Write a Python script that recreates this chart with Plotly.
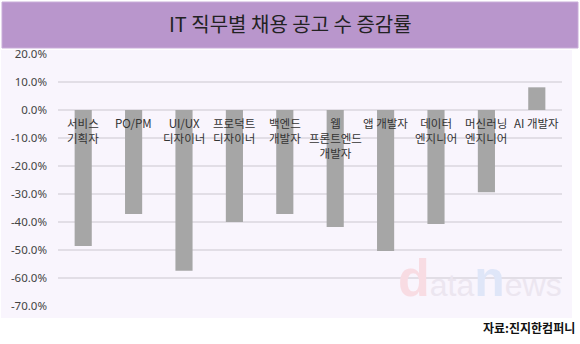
import plotly.graph_objects as go

categories = ["서비스<br>기획자", "PO/PM", "UI/UX<br>디자이너", "프로덕트<br>디자이너", "백엔드<br>개발자",
              "웹<br>프론트엔드<br>개발자", "앱 개발자", "데이터<br>엔지니어", "머신러닝<br>엔지니어", "AI 개발자"]
values = [-48.6, -37.1, -57.4, -40.0, -37.1, -41.8, -50.4, -40.7, -29.4, 8.1]
tick_vals = [20, 10, 0, -10, -20, -30, -40, -50, -60, -70]
tick_text = ["20.0%", "10.0%", "0.0%", "-10.0%", "-20.0%", "-30.0%", "-40.0%", "-50.0%", "-60.0%", "-70.0%"]
title_text = "IT 직무별 채용 공고 수 증감률"
source_text = "자료:진지한컴퍼니"

W, H = 580, 344
ML, MR, MT, MB = 58, 18, 54, 38
PW, PH = W - ML - MR, H - MT - MB

def px(x):
    return (x - ML) / PW

def py(y):
    return (H - MB - y) / PH

KR = "Noto Sans CJK KR"
xs = list(range(len(categories)))

fig = go.Figure()
fig.add_trace(go.Bar(x=xs, y=values, width=0.34, marker=dict(color="#A6A6A6", line=dict(width=0)),
                     hoverinfo="skip"))

shapes = [
    dict(type="rect", xref="paper", yref="paper", x0=px(1), x1=px(572), y0=py(318), y1=py(50),
         fillcolor="#F9F5FD", line=dict(width=0), layer="below"),
    dict(type="rect", xref="paper", yref="paper", x0=px(2), x1=px(578), y0=py(48), y1=py(2),
         fillcolor="#B996CC", line=dict(color="#C9ADD9", width=1), layer="below"),
]

wm = ("<span style='color:#F8DCE3;font-size:52px'><b>d</b></span>"
      "<span style='color:#ECE6F0;font-size:32px'>ata</span>"
      "<span style='color:#DFE6F8;font-size:50px'><b>n</b></span>"
      "<span style='color:#ECE6F0;font-size:32px'>ews</span>")

annotations = [
    dict(text=wm, xref="paper", yref="paper", x=px(480), y=py(278), showarrow=False,
         xanchor="center", yanchor="middle", font=dict(family="Liberation Sans", size=32)),
    dict(text=title_text, xref="paper", yref="paper", x=px(290), y=py(23), showarrow=False,
         xanchor="center", yanchor="middle", font=dict(family=KR, size=20, color="#222222")),
    dict(text=source_text, xref="paper", yref="paper", x=px(577), y=py(327), showarrow=False,
         xanchor="right", yanchor="middle", font=dict(family=KR, size=12, color="#111111", weight="bold")),
]
for i, c in enumerate(categories):
    annotations.append(dict(text=c, x=i, y=0, xref="x", yref="y", showarrow=False,
                            xanchor="center", yanchor="top", yshift=-3,
                            font=dict(family=KR, size=11.5, color="#333333")))

fig.update_layout(
    width=W, height=H,
    margin=dict(l=ML, r=MR, t=MT, b=MB),
    paper_bgcolor="white", plot_bgcolor="rgba(0,0,0,0)",
    showlegend=False,
    shapes=shapes, annotations=annotations,
    bargap=0.66,
)
fig.update_xaxes(range=[-0.5, len(categories) - 0.5], showticklabels=False, showgrid=False,
                 zeroline=False, showline=False, ticks="")
fig.update_yaxes(range=[-70, 20], tickvals=tick_vals, ticktext=tick_text, showgrid=True,
                 gridcolor="#E2DEE6", gridwidth=1.5, zeroline=False, showline=False, ticks="",
                 ticklabelstandoff=10,
                 tickfont=dict(family="Noto Sans", size=11.5, color="#444444"))

fig.write_html("out.html")
